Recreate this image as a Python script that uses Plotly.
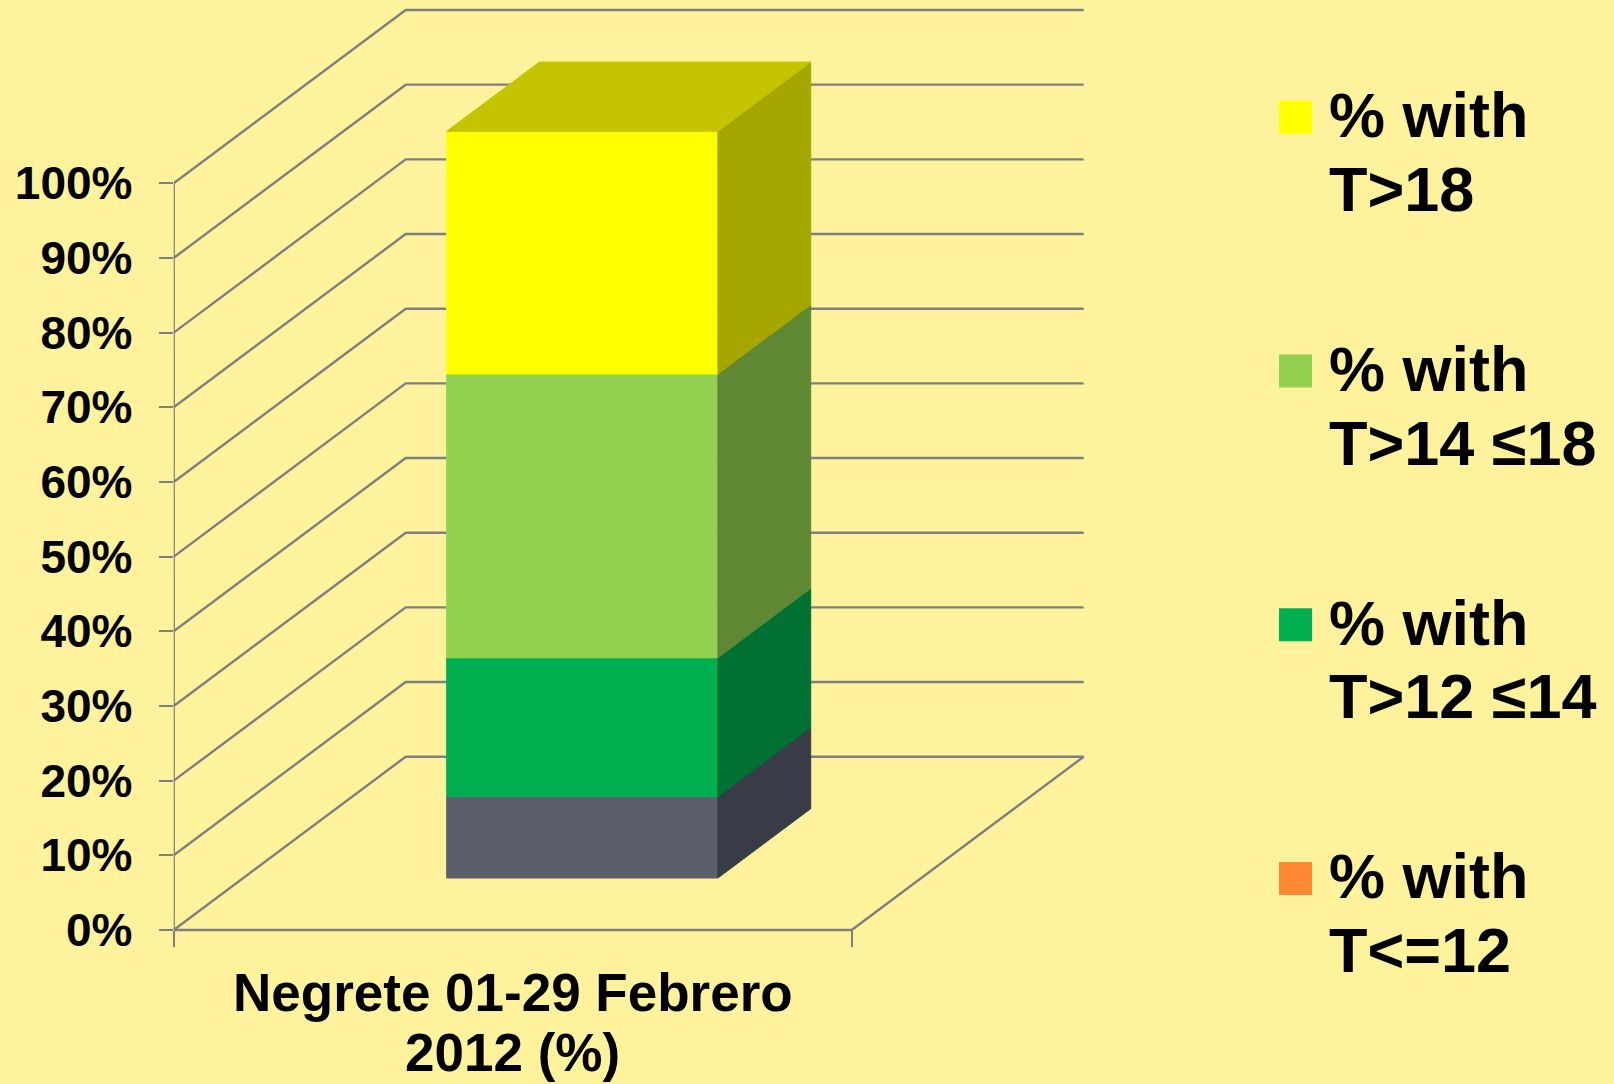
import plotly.graph_objects as go

# ---------------- data ----------------
categories = ["Negrete 01-29 Febrero", "2012 (%)"]          # category label (two lines)
series_names = ["% with|T&lt;=12", "% with|T&gt;12 ≤14", "% with|T&gt;14 ≤18", "% with|T&gt;18"]
series_values = [10.9, 18.6, 38.0, 32.5]                    # bottom -> top (100% stacked)
tick_values = [0, 10, 20, 30, 40, 50, 60, 70, 80, 90, 100]
tick_labels = ["0%", "10%", "20%", "30%", "40%", "50%", "60%", "70%", "80%", "90%", "100%"]

# ---------------- style ----------------
front_colors = ["#5A5F6B", "#00B050", "#92D050", "#FFFF00"]
side_colors = ["#393C46", "#007033", "#5F8834", "#A6A600"]
top_color = "#C4C400"
legend_colors = ["#FF8833", "#00B050", "#92D050", "#FFFF00"]
BG = "#FFF29D"
GRID = "#7F7F7F"
FONT = "Liberation Sans, Arial, sans-serif"

FIG_W, FIG_H = 1614, 1084
AXIS_X = 173.7          # pixel position of the front value axis
ZERO_PX = 930.0         # pixel row of 0%
PX_PER_PCT = 7.467
SLOT_W = 678.0          # front width of the category slot (x units = px)
DEPTH_X = 232.0         # oblique depth offset in x
DEPTH_Y = 173.3 / PX_PER_PCT  # oblique depth offset in value units
GAP = 1.5               # gap width -> bar width = 1/(1+GAP) of slot
D1, D2 = 0.3, 0.7       # bar depth range (fraction of full depth)

def P(u, v, d):
    return u + DEPTH_X * d, v + DEPTH_Y * d

fig = go.Figure()

# ---------------- walls / gridlines ----------------
gx, gy = [], []
for v in tick_values:
    pts = [P(0, v, 0), P(0, v, 1), P(SLOT_W, v, 1)]
    for (a, b) in pts:
        gx.append(a); gy.append(b)
    gx.append(None); gy.append(None)
# floor front and right edges
for (a, b) in [P(0, 0, 0), P(SLOT_W, 0, 0), P(SLOT_W, 0, 1)]:
    gx.append(a); gy.append(b)
gx.append(None); gy.append(None)
# front value axis
for (a, b) in [P(0, tick_values[0], 0), P(0, tick_values[-1], 0)]:
    gx.append(a); gy.append(b)
fig.add_trace(go.Scatter(x=gx, y=gy, mode="lines", line=dict(color=GRID, width=2.4),
                         hoverinfo="skip", showlegend=False))

# ---------------- 3D stacked bar ----------------
bar_w = SLOT_W / (1 + GAP)
uL = SLOT_W / 2 - bar_w / 2
uR = uL + bar_w

def poly(points, color):
    xs = [p[0] for p in points] + [points[0][0]]
    ys = [p[1] for p in points] + [points[0][1]]
    fig.add_trace(go.Scatter(x=xs, y=ys, mode="lines", fill="toself", fillcolor=color,
                             line=dict(color=color, width=1), hoverinfo="skip",
                             showlegend=False))

cum = 0.0
for i, val in enumerate(series_values):
    lo, hi = cum, cum + val
    cum = hi
    poly([P(uL, lo, D1), P(uR, lo, D1), P(uR, hi, D1), P(uL, hi, D1)], front_colors[i])
    poly([P(uR, lo, D1), P(uR, lo, D2), P(uR, hi, D2), P(uR, hi, D1)], side_colors[i])
    if i == len(series_values) - 1:
        poly([P(uL, hi, D1), P(uR, hi, D1), P(uR, hi, D2), P(uL, hi, D2)], top_color)

# ---------------- axes ----------------
x_dom0 = AXIS_X / FIG_W
y_lo = (ZERO_PX - FIG_H) / PX_PER_PCT
y_hi = ZERO_PX / PX_PER_PCT
fig.update_layout(
    width=FIG_W, height=FIG_H,
    margin=dict(l=0, r=0, t=0, b=0),
    paper_bgcolor=BG, plot_bgcolor=BG,
    showlegend=False,
    xaxis=dict(domain=[x_dom0, 1], range=[0, FIG_W - AXIS_X], anchor="free",
               position=1 - ZERO_PX / FIG_H, tickvals=[0, SLOT_W], ticktext=["", ""],
               ticks="outside", ticklen=16, tickwidth=2.4, tickcolor=GRID,
               showgrid=False, zeroline=False, showline=False, fixedrange=True),
    yaxis=dict(range=[y_lo, y_hi], tickvals=tick_values, ticktext=tick_labels,
               ticks="outside", ticklen=14, tickwidth=2.4, tickcolor=GRID,
               tickfont=dict(family=FONT, size=46, color="#000000", weight="bold"),
               ticklabelstandoff=17, showgrid=False, zeroline=False, showline=False,
               automargin=False, fixedrange=True),
)

# ---------------- category label ----------------
cat_x = SLOT_W / 2
cat_rows = [992.5, 1052.0]
for text, row in zip(categories, cat_rows):
    fig.add_annotation(x=cat_x, xref="x", y=1 - row / FIG_H, yref="paper",
                       text="<b>" + text + "</b>", showarrow=False,
                       xanchor="center", yanchor="middle",
                       font=dict(family=FONT, size=53, color="#000000"))

# ---------------- legend (drawn manually, top = last series) ----------------
LEG_SQ_X0, LEG_SQ_X1 = 1279.0, 1312.0
LEG_TXT_X = 1327.0
LEG_Y0, LEG_STEP, LEG_SQ = 117.3, 253.7, 33.0
LINE2 = 71.5
for k, idx in enumerate(reversed(range(len(series_names)))):
    cy = LEG_Y0 + LEG_STEP * k
    fig.add_shape(type="rect", xref="paper", yref="paper",
                  x0=LEG_SQ_X0 / FIG_W, x1=LEG_SQ_X1 / FIG_W,
                  y0=1 - (cy + LEG_SQ / 2) / FIG_H, y1=1 - (cy - LEG_SQ / 2) / FIG_H,
                  fillcolor=legend_colors[idx], line=dict(width=0))
    l1, l2 = series_names[idx].split("|")
    for text, row in [(l1, cy - 2), (l2, cy + LINE2)]:
        fig.add_annotation(x=LEG_TXT_X / FIG_W, xref="paper", y=1 - row / FIG_H, yref="paper",
                           text="<b>" + text + "</b>", showarrow=False,
                           xanchor="left", yanchor="middle",
                           font=dict(family=FONT, size=63, color="#000000"))

fig.write_html("out.html", config={"displayModeBar": False},
               post_script="document.body.style.margin='0';document.body.style.background='%s';" % BG)
